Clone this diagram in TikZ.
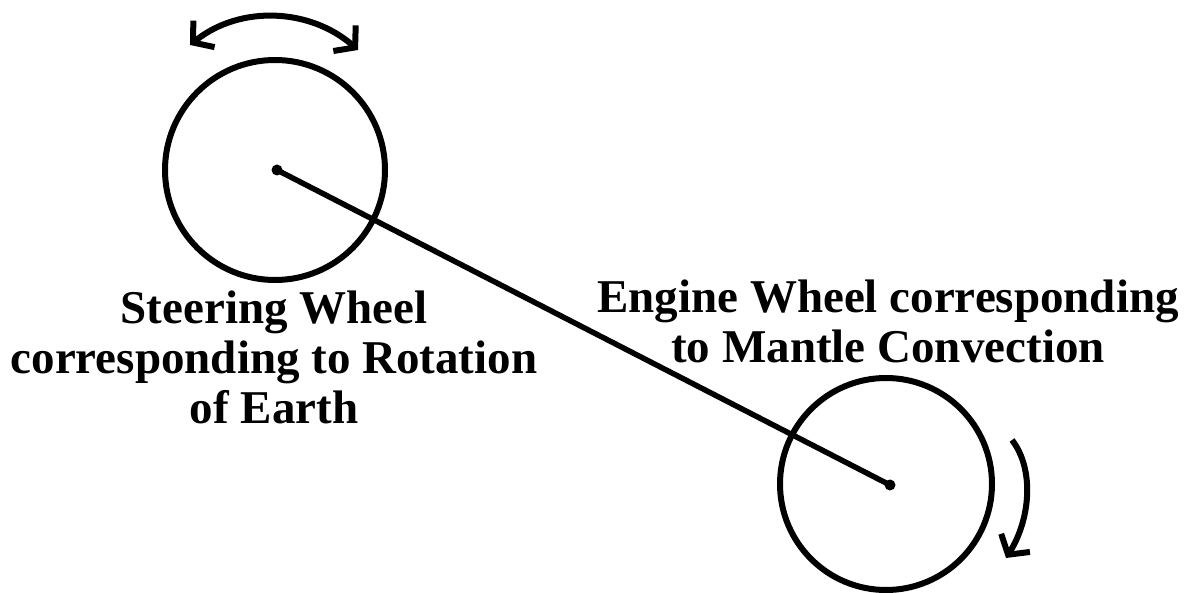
\documentclass[tikz,border=0pt]{standalone}
\usepackage{fontspec}
\setmainfont{Liberation Serif}
\usetikzlibrary{arrows.meta}
\begin{document}
\begin{tikzpicture}[x=1pt,y=-1pt,
  wheel/.style={draw,circle,line width=6pt,inner sep=0pt},
  hub/.style={fill,circle,minimum size=11pt,inner sep=0pt},
  rod/.style={line width=5.5pt},
  turn/.style={line width=6pt,-{Straight Barb[length=14pt,width=34pt]}},
  turnboth/.style={line width=6pt,{Straight Barb[length=14pt,width=34pt]}-{Straight Barb[length=14pt,width=34pt]}},
  lbl/.style={align=center,font=\fontsize{47}{50}\selectfont\bfseries,inner sep=0pt}]
\useasboundingbox (0,0) rectangle (1200,593);
\fill[white] (0,0) rectangle (1200,593);
\node[wheel,minimum size=220pt] (sw) at (275,170) {};
\node[wheel,minimum size=212pt] (ew) at (886,484) {};
\node[hub] (sh) at (277,170) {};
\node[hub] (eh) at (890,485) {};
\draw[rod] (sh.center) -- (eh.center);
\coordinate (a1) at (190,45);
\coordinate (a2) at (358,50);
\draw[turnboth] (a1) .. controls (240,5) and (310,8) .. (a2);
\coordinate (b1) at (1012,440);
\coordinate (b2) at (1006,558);
\draw[turn] (b1) .. controls (1035,470) and (1030,520) .. (b2);
\node[lbl] (sl) at (274,357) {Steering Wheel\\corresponding to Rotation\\of Earth};
\node[lbl] (el) at (888,321) {Engine Wheel corresponding\\to Mantle Convection};
\end{tikzpicture}
\end{document}
